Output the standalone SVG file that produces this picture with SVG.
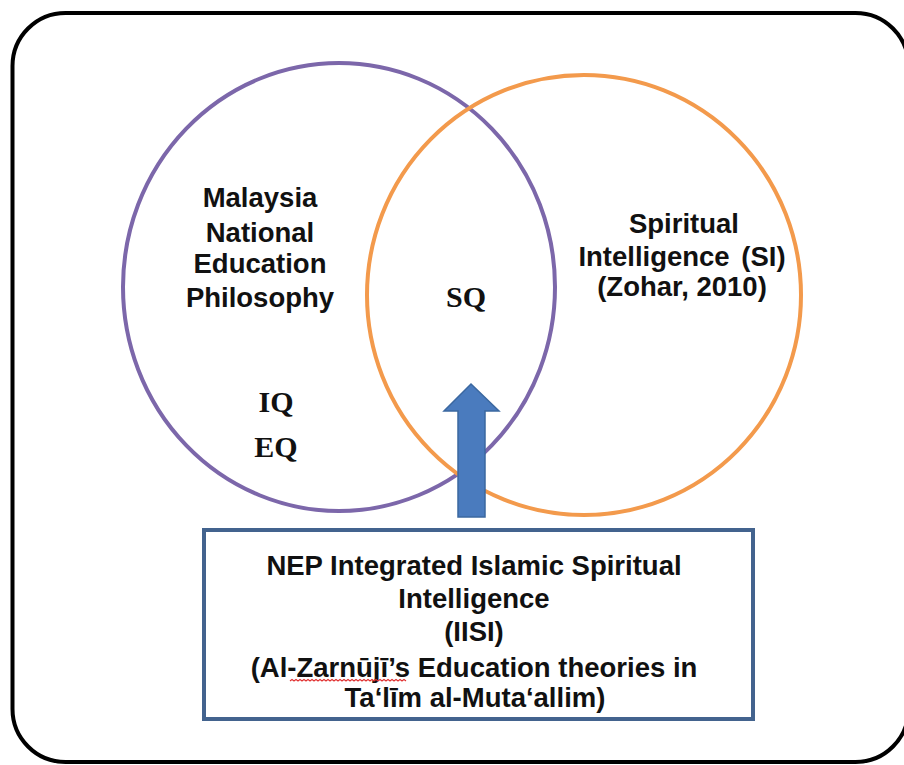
<svg xmlns="http://www.w3.org/2000/svg" width="904" height="765" viewBox="0 0 904 765">
  <defs>
    <style>
      .sans { font-family: "Liberation Sans", Arial, sans-serif; font-weight: bold; font-size: 27.5px; fill: #111; text-anchor: middle; }
      .serif { font-family: "Liberation Serif", "Times New Roman", serif; font-weight: bold; font-size: 30px; fill: #111; text-anchor: middle; }
      .ring { fill: none; stroke-width: 4; }
    </style>
  </defs>

  <rect width="904" height="765" fill="#ffffff"/>

  <!-- outer rounded frame -->
  <g id="frame">
    <rect x="12.5" y="13" width="896" height="749" rx="53" ry="53" fill="none" stroke="#000" stroke-width="4"/>
  </g>

  <!-- left set: national education philosophy -->
  <g id="node-nep-philosophy">
    <ellipse class="ring" cx="339" cy="287" rx="216" ry="224" stroke="#7C67AA"/>
    <text class="sans" x="260" y="207">Malaysia</text>
    <text class="sans" x="260" y="242">National</text>
    <text class="sans" x="260" y="273">Education</text>
    <text class="sans" x="260" y="307">Philosophy</text>
    <text class="serif" x="276" y="412">IQ</text>
    <text class="serif" x="276" y="457">EQ</text>
  </g>

  <!-- right set: spiritual intelligence -->
  <g id="node-spiritual-intelligence">
    <ellipse class="ring" cx="584" cy="295" rx="217" ry="220" stroke="#F39A4C"/>
    <text class="sans" x="684" y="233">Spiritual</text>
    <text class="sans" x="682" y="266" word-spacing="4">Intelligence (SI)</text>
    <text class="sans" x="682" y="296">(Zohar, 2010)</text>
  </g>

  <!-- overlap label -->
  <g id="node-sq">
    <text class="serif" x="466" y="307">SQ</text>
  </g>

  <!-- bottom box -->
  <g id="node-iisi">
    <rect x="204" y="530" width="549" height="189" fill="#ffffff" stroke="#43638E" stroke-width="4"/>
    <text class="sans" x="474" y="575">NEP Integrated Islamic Spiritual</text>
    <text class="sans" x="474" y="608">Intelligence</text>
    <text class="sans" x="474" y="641">(IISI)</text>
    <text class="sans" x="474" y="677">(Al-Zarnūjī’s Education theories in</text>
    <text class="sans" x="475" y="707">Ta‘līm al-Muta‘allim)</text>
    <path d="M290,681 l2,-1.6 l2,1.6 l2,-1.6 l2,1.6 l2,-1.6 l2,1.6 l2,-1.6 l2,1.6 l2,-1.6 l2,1.6 l2,-1.6 l2,1.6 l2,-1.6 l2,1.6 l2,-1.6 l2,1.6 l2,-1.6 l2,1.6 l2,-1.6 l2,1.6 l2,-1.6 l2,1.6 l2,-1.6 l2,1.6 l2,-1.6 l2,1.6 l2,-1.6 l2,1.6 l2,-1.6 l2,1.6 l2,-1.6 l2,1.6 l2,-1.6 l2,1.6 l2,-1.6 l2,1.6 l2,-1.6 l2,1.6 l2,-1.6 l2,1.6 l2,-1.6 l2,1.6 l2,-1.6 l2,1.6 l2,-1.6 l2,1.6 l2,-1.6 l2,1.6 l2,-1.6 l2,1.6 l2,-1.6 l2,1.6 l2,-1.6 l2,1.6 l2,-1.6 l2,1.6 l2,-1.6 l2,1.6" fill="none" stroke="#E03030" stroke-width="1.2"/>
  </g>

  <!-- connectors -->
  <g id="connectors">
    <polygon points="471,384 499,411 485,411 485,517 458,517 458,411 444,411" fill="#4A7BBE" stroke="#3B68A0" stroke-width="1.5" stroke-linejoin="miter"/>
  </g>
</svg>
